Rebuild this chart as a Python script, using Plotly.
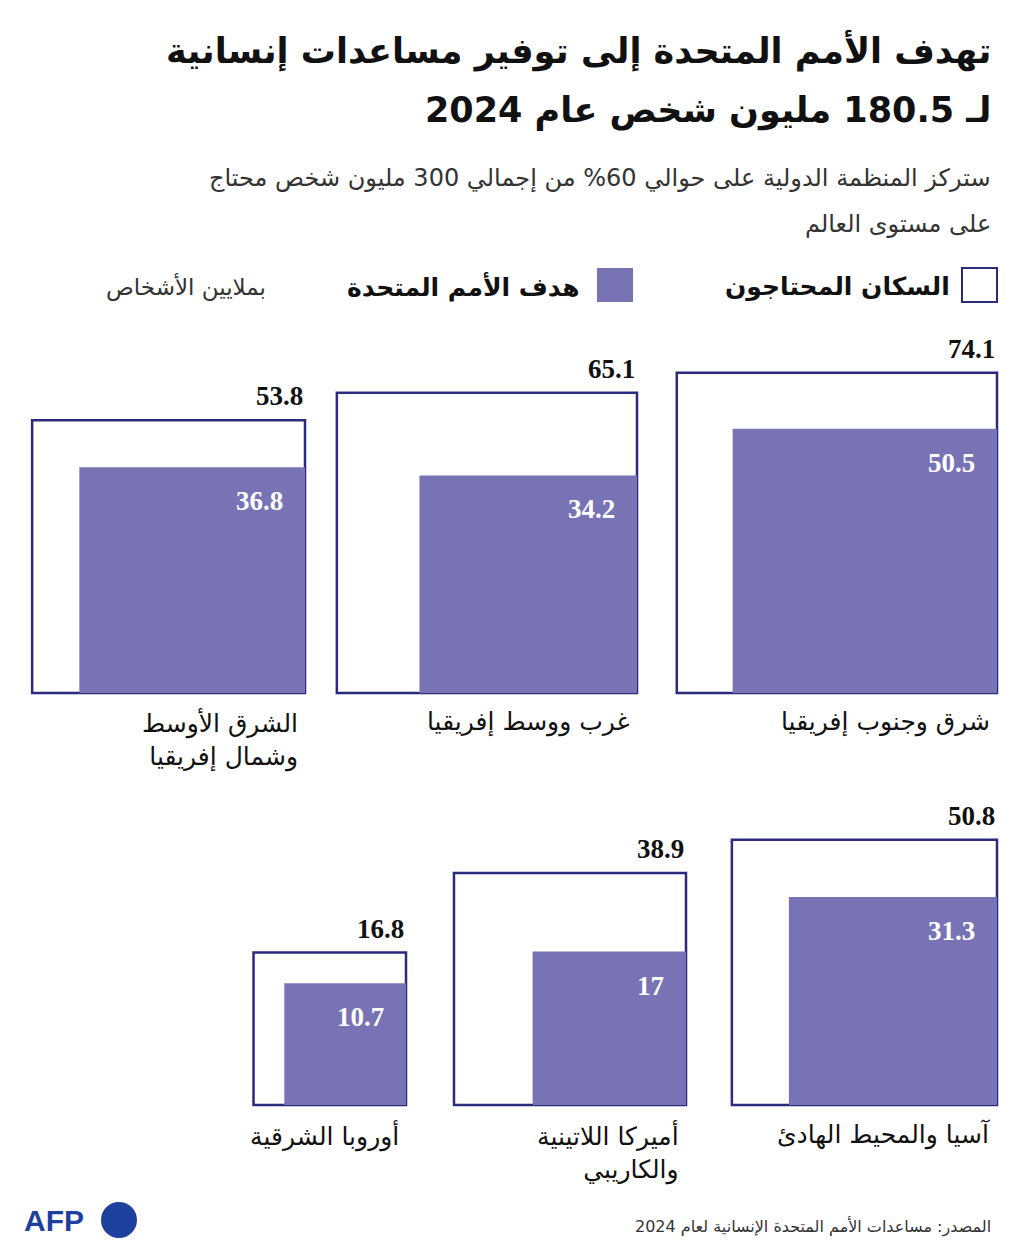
import plotly.graph_objects as go
import math

regions = ["شرق وجنوب إفريقيا", "غرب ووسط إفريقيا", "الشرق الأوسط<br>وشمال إفريقيا",
           "آسيا والمحيط الهادئ", "أميركا اللاتينية<br>والكاريبي", "أوروبا الشرقية"]
people_in_need = [74.1, 65.1, 53.8, 50.8, 38.9, 16.8]
un_target = [50.5, 34.2, 36.8, 31.3, 17, 10.7]

right_edges = [997, 637, 305, 997, 686, 406]
bottoms = [693, 693, 693, 1105, 1105, 1105]
K = 37.2

NAVY = "#2b2a7c"
FILL = "#7873b5"
AR = "DejaVu Sans"
NUM = "Liberation Serif"

fig = go.Figure()
shapes = []
ann = []

def txt(x, y, t, size, color="#111", bold=False, anchor="right", font=AR, yanchor="middle"):
    if bold:
        t = "<b>" + t + "</b>"
    ann.append(dict(x=x, y=y, text=t, showarrow=False, xanchor=anchor, yanchor=yanchor,
                    align=anchor if anchor != "center" else "center",
                    font=dict(size=size, color=color, family=font), xref="x", yref="y"))

for reg, pn, ut, r, b in zip(regions, people_in_need, un_target, right_edges, bottoms):
    so = math.sqrt(pn) * K
    si = math.sqrt(ut) * K
    shapes.append(dict(type="rect", x0=r - so, x1=r, y0=b - so, y1=b,
                       line=dict(color=NAVY, width=2.5), fillcolor="white", layer="below"))
    shapes.append(dict(type="rect", x0=r - si, x1=r, y0=b - si, y1=b,
                       line=dict(width=0), fillcolor=FILL, layer="above"))
    txt(r, b - so - 24, f"{pn:g}", 27, bold=True, font=NUM)
    txt(r - 20, b - si + 34, f"{ut:g}", 27, color="white", bold=True, font=NUM)
    txt(r - 5, b + 12, reg, 25, yanchor="top")

shapes.append(dict(type="rect", x0=0, x1=1020, y0=0, y1=7, fillcolor="#111", line=dict(width=0)))
txt(993, 50, "تهدف الأمم المتحدة إلى توفير مساعدات إنسانية", 35, bold=True)
txt(993, 110, "لـ 180.5 مليون شخص عام 2024", 35, bold=True)
txt(993, 178, "ستركز المنظمة الدولية على حوالي 60% من إجمالي 300 مليون شخص محتاج", 24, color="#333")
txt(993, 224, "على مستوى العالم", 24, color="#333")
shapes.append(dict(type="rect", x0=962, x1=997, y0=268, y1=302, line=dict(color=NAVY, width=2), fillcolor="white"))
txt(952, 287, "السكان المحتاجون", 25, bold=True)
shapes.append(dict(type="rect", x0=597, x1=633, y0=268, y1=302, line=dict(width=0), fillcolor=FILL))
txt(582, 287, "هدف الأمم المتحدة", 25, bold=True)
txt(268, 287, "بملايين الأشخاص", 23, color="#333")
txt(993, 1226, "المصدر: مساعدات الأمم المتحدة الإنسانية لعام 2024", 16, color="#333")
txt(22, 1220, "AFP", 30, color="#1d3f9e", bold=True, anchor="left", font="Liberation Sans")
shapes.append(dict(type="circle", x0=101, x1=137, y0=1202, y1=1238, fillcolor="#1d3f9e", line=dict(width=0)))

# page body has an 8px offset; shift ranges so coordinates map to window pixels
fig.update_layout(
    width=1020, height=1255, margin=dict(l=0, r=0, t=0, b=0),
    plot_bgcolor="white", paper_bgcolor="white", showlegend=False,
    xaxis=dict(range=[8, 1028], visible=False, fixedrange=True),
    yaxis=dict(range=[1263, 8], visible=False, fixedrange=True),
    shapes=shapes, annotations=ann,
)
fig.write_html("out.html", config={"displayModeBar": False})
